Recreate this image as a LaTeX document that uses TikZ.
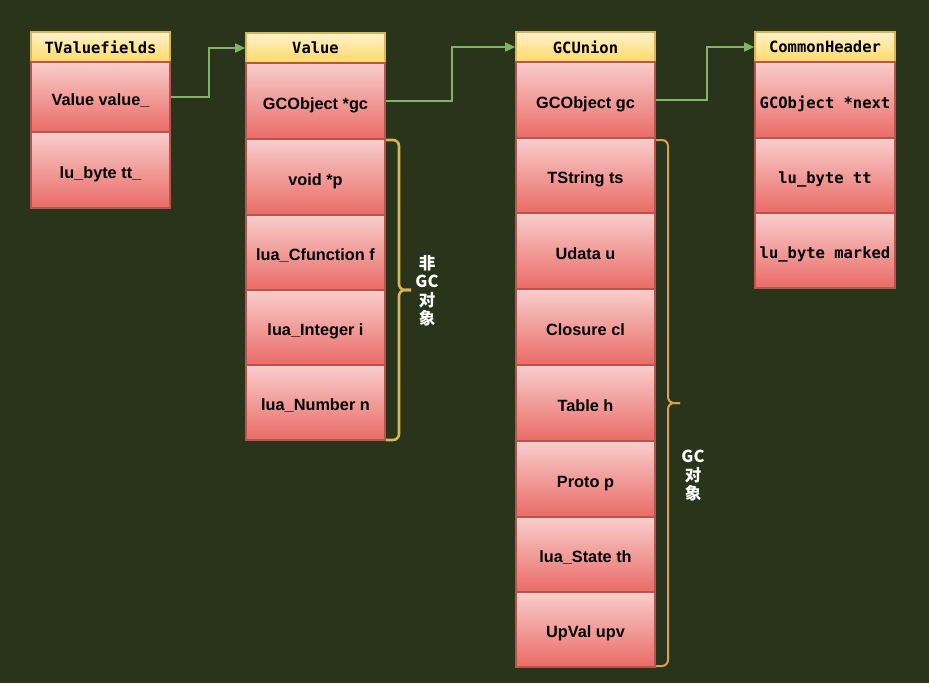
\documentclass[tikz,border=0pt]{standalone}
\usepackage{fontspec}
\setmainfont{Liberation Sans}
\newfontfamily\monofont{DejaVu Sans Mono}
\newfontfamily\cjkfont{Noto Sans CJK SC}
\usetikzlibrary{arrows.meta}
\definecolor{bgc}{HTML}{29341A}
\definecolor{hdrline}{HTML}{D6B656}
\definecolor{hdrtop}{HTML}{FFF2CC}
\definecolor{hdrbot}{HTML}{FFD966}
\definecolor{cellline}{HTML}{B85450}
\definecolor{celltop}{HTML}{F8CECC}
\definecolor{cellbot}{HTML}{EA6B66}
\definecolor{linkc}{HTML}{82B366}
\definecolor{braceA}{HTML}{D6B656}
\definecolor{braceB}{HTML}{D6A05A}
\tikzset{
  hdr/.style={draw=hdrline, line width=1.6pt, top color=hdrtop, bottom color=hdrbot,
    minimum width=139pt, minimum height=30pt, inner sep=0pt,
    font=\monofont\bfseries\fontsize{15.5}{18}\selectfont},
  cell/.style={draw=cellline, line width=2pt, top color=celltop, bottom color=cellbot,
    minimum width=139pt, inner sep=0pt, text height=18pt, text depth=2pt,
    font=\bfseries\fontsize{16.3}{19}\selectfont},
  mcell/.style={cell, font=\monofont\bfseries\fontsize{15.5}{18}\selectfont},
  link/.style={draw=linkc, line width=1.5pt, -{Triangle[length=10pt,width=9pt]}},
  braceline/.style={line width=2.6pt, rounded corners=6pt},
  note/.style={text=white, align=center, inner sep=0pt,
    font=\cjkfont\bfseries\fontsize{16.5}{18.5}\selectfont},
}
\begin{document}
\begin{tikzpicture}[x=1pt,y=-1pt]
\fill[bgc] (0,0) rectangle (929,683);
\useasboundingbox (0,0) rectangle (929,683);
% TValuefields
\node[hdr] (tvh) at (100.5,47) {TValuefields};
\node[cell, minimum height=70pt] (tv1) at (100.5,97) {Value value\_};
\node[cell, minimum height=76pt] (tv2) at (100.5,170) {lu\_byte tt\_};
% Value
\node[hdr] (vh) at (315.5,48) {Value};
\node[cell, minimum height=76pt] (v1) at (315.5,101) {GCObject *gc};
\node[cell, minimum height=76pt] (v2) at (315.5,177) {void *p};
\node[cell, minimum height=75pt] (v3) at (315.5,252.5) {lua\_Cfunction f};
\node[cell, minimum height=75pt] (v4) at (315.5,327.5) {lua\_Integer i};
\node[cell, minimum height=75pt] (v5) at (315.5,402.5) {lua\_Number n};
% GCUnion
\node[hdr] (gh) at (585.5,47) {GCUnion};
\node[cell, minimum height=76pt] (g1) at (585.5,100) {GCObject gc};
\node[cell, minimum height=75pt] (g2) at (585.5,175.5) {TString ts};
\node[cell, minimum height=76pt] (g3) at (585.5,251) {Udata u};
\node[cell, minimum height=76pt] (g4) at (585.5,327) {Closure cl};
\node[cell, minimum height=76pt] (g5) at (585.5,403) {Table h};
\node[cell, minimum height=76pt] (g6) at (585.5,479) {Proto p};
\node[cell, minimum height=75pt] (g7) at (585.5,554.5) {lua\_State th};
\node[cell, minimum height=75pt] (g8) at (585.5,629.5) {UpVal upv};
% CommonHeader
\node[hdr, minimum width=140pt] (ch) at (825,47) {CommonHeader};
\node[mcell, minimum width=140pt, minimum height=76pt] (c1) at (825,100) {GCObject *next};
\node[mcell, minimum width=140pt, minimum height=75pt] (c2) at (825,175.5) {lu\_byte tt};
\node[mcell, minimum width=140pt, minimum height=75pt] (c3) at (825,250.5) {lu\_byte marked};
% links
\draw[link] (tv1.east) -- ++(38,0) |- (vh.west);
\draw[link] (v1.east) -- ++(66,0) |- (gh.west);
\draw[link] (g1.east) -- ++(51,0) |- (ch.west);
% braces
\draw[braceline, draw=braceA] (386,140) -- (399,140) -- (399,290) -- (411,290);
\draw[braceline, draw=braceA] (386,440) -- (399,440) -- (399,290) -- (411,290);
\draw[braceline, draw=braceB, line width=2pt] (656,140) -- (668,140) -- (668,403) -- (680,403);
\draw[braceline, draw=braceB, line width=2pt] (656,666) -- (668,666) -- (668,403) -- (680,403);
\node[note] (t1) at (427,291) {非\\GC\\对\\象};
\node[note] (t2) at (693,476) {GC\\对\\象};
\end{tikzpicture}
\end{document}
